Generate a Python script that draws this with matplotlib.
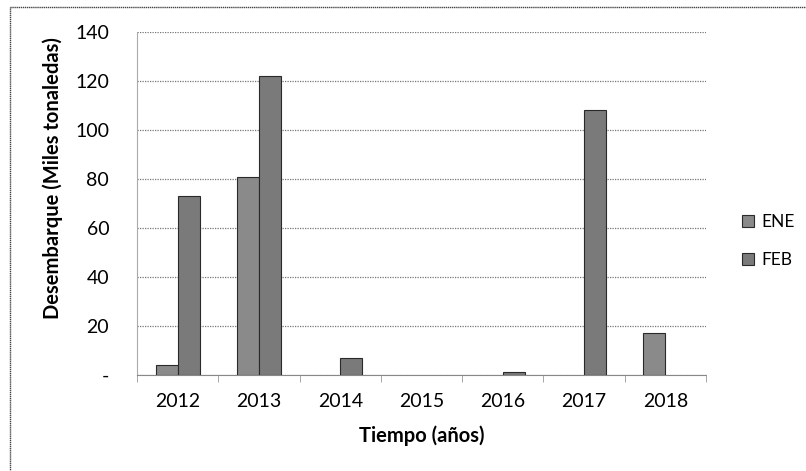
import matplotlib.pyplot as plt
import matplotlib.patches as mpatches
import numpy as np

plt.rcParams['font.family'] = ['Lato', 'DejaVu Sans']

años = ["2012", "2013", "2014", "2015", "2016", "2017", "2018"]
ene = [4, 81, 0, 0, 0, 0, 17]
feb = [73, 122, 7, 0, 1, 108, 0]
yticks = [0, 20, 40, 60, 80, 100, 120, 140]
ytick_labels = ["-", "20", "40", "60", "80", "100", "120", "140"]

fig = plt.figure(figsize=(8.06, 4.71), dpi=100)
ax = fig.add_axes([0.170, 0.204, 0.706, 0.728])

x = np.arange(len(años))
ancho = 0.27
# sin borde en las barras de valor cero (no se ven en el original)
bordes_ene = [0.8 if v > 0 else 0 for v in ene]
bordes_feb = [0.8 if v > 0 else 0 for v in feb]
ax.bar(x - ancho / 2, ene, ancho, color="#8a8a8a", edgecolor="#2a2a2a",
       linewidth=bordes_ene, label="ENE", zorder=3)
ax.bar(x + ancho / 2, feb, ancho, color="#7a7a7a", edgecolor="#2a2a2a",
       linewidth=bordes_feb, label="FEB", zorder=3)

ax.set_xlim(-0.5, len(años) - 0.5)
ax.set_ylim(0, 140)
ax.set_yticks(yticks)
ax.set_yticklabels(ytick_labels)
ax.set_xticks(x)
ax.set_xticklabels(años)
ax.tick_params(axis="x", length=0, pad=13, labelsize=14)
ax.tick_params(axis="y", length=0, pad=20, labelsize=14)
# marcas entre categorias
ax.set_xticks(np.arange(-0.5, len(años), 1), minor=True)
ax.tick_params(axis="x", which="minor", length=5, color="#999999", direction="out")

ax.grid(axis="y", color="#777777", linestyle=(0, (1, 1)), linewidth=0.9, zorder=0)
for s in ["top", "right"]:
    ax.spines[s].set_visible(False)
ax.spines["left"].set_color("#aaaaaa")
ax.spines["left"].set_linestyle((0, (1, 1)))
ax.spines["bottom"].set_color("#888888")
ax.spines["bottom"].set_linestyle((0, (2, 1)))

ax.set_ylabel("Desembarque (Miles tonaledas)", fontsize=14.5, fontweight="bold")
ax.yaxis.set_label_coords(-0.13, 0.574)
ax.set_xlabel("Tiempo (años)", fontsize=14.5, fontweight="bold", labelpad=11)

ax.legend(loc="center left", bbox_to_anchor=(1.035, 0.39), frameon=False,
          fontsize=12.5, handlelength=0.7, handleheight=0.7, handletextpad=0.45,
          labelspacing=1.25)

# borde exterior del grafico
fig.patches.append(mpatches.Rectangle((10 / 806, -0.05), 1.2, 1 - 7 / 471 + 0.05,
                                      transform=fig.transFigure, fill=False,
                                      edgecolor="#444444", linewidth=1.0,
                                      linestyle=(0, (1, 0.5))))

fig.savefig("out.png", dpi=100)
